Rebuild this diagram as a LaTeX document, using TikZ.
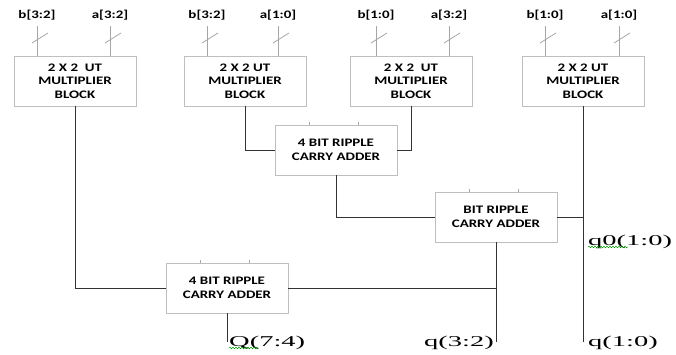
\documentclass[tikz,border=0pt]{standalone}
\usepackage{fontspec}
\usetikzlibrary{decorations.pathmorphing}
\newfontfamily\blockfont[FakeStretch=1.3]{Carlito}
\newfontfamily\labelfont[FakeStretch=1.9]{Liberation Serif}
\tikzset{
  unit/.style={draw=black!25, fill=white, minimum width=122pt, minimum height=50pt,
    inner sep=0pt, align=center, font=\blockfont\bfseries\fontsize{11.5}{13.5}\selectfont},
  pin/.style={inner sep=0pt, outer ysep=6pt, font=\blockfont\bfseries\fontsize{11.5}{13.5}\selectfont},
  bus/.style={draw=black!35, line width=0.8pt},
  wire/.style={draw=black!80, line width=1pt},
  outlabel/.style={inner sep=0pt, font=\labelfont\fontsize{15}{17}\selectfont},
  squiggle/.style={draw=green!60!black, line width=0.5pt, decorate,
    decoration={snake, amplitude=0.8pt, segment length=3pt}}
}
\begin{document}
\begin{tikzpicture}[x=1pt,y=-1pt]
  \useasboundingbox (0,0) rectangle (676,354);
  % multiplier blocks
  \node[unit] (m1) at (75,81) {2 X 2 \ UT\\MULTIPLIER\\BLOCK};
  \node[unit] (m2) at (245,81) {2 X 2 UT\\MULTIPLIER\\BLOCK};
  \node[unit] (m3) at (411,81) {2 X 2 \ UT\\MULTIPLIER\\BLOCK};
  \node[unit] (m4) at (583,81) {2 X 2 UT\\MULTIPLIER\\BLOCK};
  % inputs
  \foreach \i/\x/\txt/\blk in {1/37/{b[3:2]}/m1, 2/110/{a[3:2]}/m1,
      3/207/{b[3:2]}/m2, 4/278/{a[1:0]}/m2,
      5/376/{b[1:0]}/m3, 6/449/{a[3:2]}/m3,
      7/545/{b[1:0]}/m4, 8/619/{a[1:0]}/m4} {
    \node[pin] (in\i) at (\x,15) {\txt};
    \draw[bus] (in\i.south) -- (in\i.south |- \blk.north);
    \draw[bus] (\x,38) +(-5,5) -- +(11,-5);
  }
  % adders
  \node[unit] (add1) at (336,150) {4 BIT RIPPLE\\CARRY ADDER};
  \node[unit] (add2) at (496,217) {BIT RIPPLE\\CARRY ADDER};
  \node[unit] (add3) at (227,288) {4 BIT RIPPLE\\CARRY ADDER};
  \foreach \a in {add1,add2,add3} {
    \draw[bus, line width=0.5pt] ([xshift=-27pt]\a.north) -- ++(0,-3);
    \draw[bus, line width=0.5pt] ([xshift=22pt]\a.north) -- ++(0,-3);
  }
  % outputs
  \coordinate (q10) at (583,342);
  \coordinate (q32) at (add2.south |- 0,342);
  \coordinate (q74) at (add3.south |- 0,342);
  \draw[wire] (m2.south) |- (add1.west);
  \draw[wire] (m3.south) |- (add1.east);
  \draw[wire] (add1.south) |- (add2.west);
  \draw[wire] (m4.south) -- (q10);
  \draw[wire] (add2.east) -- (add2.east -| q10);
  \draw[wire] (add2.south) -- (q32);
  \draw[wire] (m1.south) |- (add3.west);
  \draw[wire] (add3.east) -- (add3.east -| q32);
  \draw[wire] (add3.south) -- (q74);
  \node[outlabel, anchor=base west] (l74) at ([xshift=2pt,yshift=-4pt]q74) {Q(7:4)};
  \node[outlabel, anchor=base east] (l32) at ([xshift=-2pt,yshift=-4pt]q32) {q(3:2)};
  \node[outlabel, anchor=base west] (l10) at ([xshift=5pt,yshift=-4pt]q10) {q(1:0)};
  \node[outlabel, anchor=base west] (l0) at (588,245) {q0(1:0)};
  \draw[squiggle] ([yshift=-2pt]l74.base west) -- ++(30,0);
  \draw[squiggle] ([yshift=-2pt]l0.base west) -- ++(40,0);
\end{tikzpicture}
\end{document}
